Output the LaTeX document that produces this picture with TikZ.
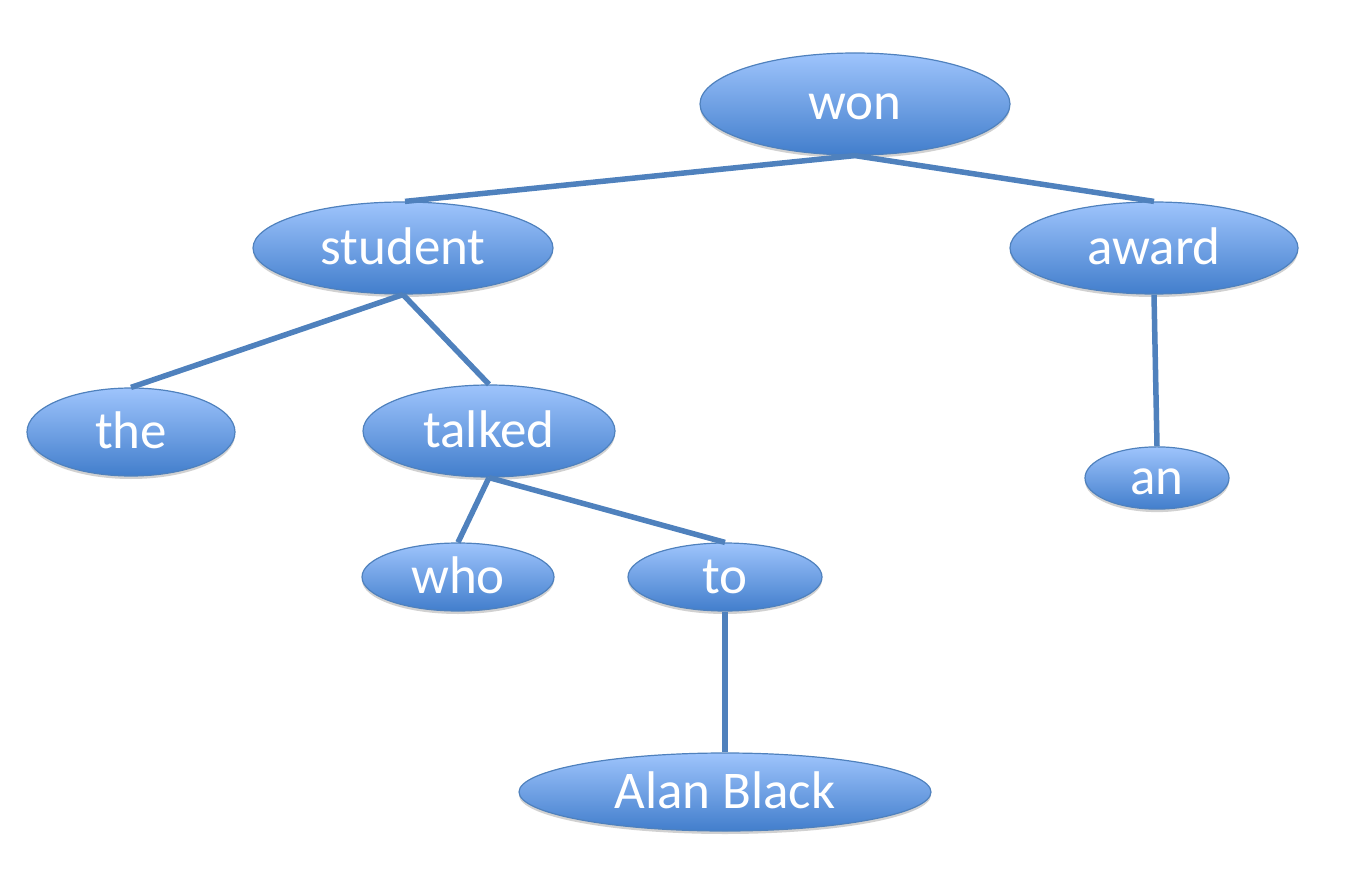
\documentclass[tikz,border=0pt]{standalone}
\usepackage{fontspec}
\setmainfont{Carlito}
\usetikzlibrary{shapes.geometric,shadows}
\definecolor{edgeblue}{RGB}{79,129,189}
\definecolor{topblue}{RGB}{158,196,252}
\definecolor{botblue}{RGB}{66,126,204}
\tikzset{
  word/.style={ellipse, draw=edgeblue, line width=1.2pt, inner sep=0pt,
    top color=topblue, bottom color=botblue, text=white,
    text height=38pt, text depth=6pt,
    font=\fontsize{53}{60}\selectfont,
    drop shadow={shadow xshift=0pt, shadow yshift=-3pt, opacity=0.18, fill=black}},
  link/.style={draw=edgeblue, line width=5.5pt}
}
\begin{document}
\begin{tikzpicture}[x=1pt,y=-1pt]
\useasboundingbox (0,0) rectangle (1368,896);
\node[word, minimum width=310pt, minimum height=102pt] (won) at (855,104) {won};
\node[word, minimum width=300pt, minimum height=92pt] (student) at (403,248) {student};
\node[word, minimum width=288pt, minimum height=92pt] (award) at (1154,248) {award};
\node[word, minimum width=208pt, minimum height=88pt] (the) at (131,432) {the};
\node[word, minimum width=252pt, minimum height=92pt] (talked) at (489,431) {talked};
\node[word, minimum width=144pt, minimum height=58pt] (an) at (1157,478) {an};
\node[word, minimum width=192pt, minimum height=68pt] (who) at (458,577) {who};
\node[word, minimum width=194pt, minimum height=68pt] (to) at (725,577) {to};
\node[word, minimum width=412pt, minimum height=78pt] (alan) at (725,792) {Alan Black};
\draw[link] (won.south) -- ([xshift=2pt]student.north);
\draw[link] (won.south) -- (award.north);
\draw[link] (student.south) -- (the.north);
\draw[link] (student.south) -- (talked.north);
\draw[link] (talked.south) -- (who.north);
\draw[link] (talked.south) -- (to.north);
\draw[link] (to.south) -- (alan.north);
\draw[link] (award.south) -- (an.north);
\end{tikzpicture}
\end{document}
